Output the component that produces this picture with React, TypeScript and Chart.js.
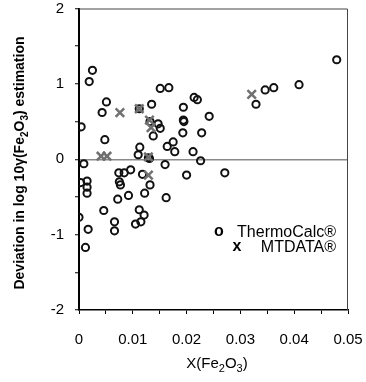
import React, { useEffect, useRef } from "react";
import { Chart, registerables } from "chart.js";

Chart.register(...registerables);

// ThermoCalc® points
const thermoX = [
  0.0025, 0.0019, 0.0051, 0.0043, 0.0112, 0.0135, 0.0151, 0.0167, 0.0004, 0.0048,
  0.0132, 0.0147, 0.0151, 0.0138, 0.0194, 0.0194, 0.0195, 0.0193, 0.0214, 0.0220,
  0.0242, 0.0228, 0.0113, 0.0110, 0.0129, 0.0131, 0.0164, 0.0175, 0.0178, 0.0212,
  0.0226, 0.0479, 0.0409, 0.0362, 0.0346, 0.0329, 0.0271, 0.0009, 0.0160, 0.0200,
  0.0096, 0.0084, 0.0074, 0.0118, 0.0132, 0.0077, 0.0075, 0.0003, 0.0015, 0.0015,
  0.0015, 0.0122, 0.0092, 0.0072, 0.0162, 0.0046, 0.0112, 0.0121, 0.0115, 0.0105,
  0.0066, 0.0066, 0.0000, 0.0017, 0.0012,
];
const thermoY = [
  1.18, 1.03, 0.76, 0.62, 0.67, 0.73, 0.94, 0.95, 0.43, 0.26,
  0.50, 0.47, 0.41, 0.31, 0.69, 0.52, 0.50, 0.35, 0.82, 0.79,
  0.57, 0.35, 0.16, 0.06, 0.02, 0.01, 0.17, 0.23, 0.10, 0.10,
  -0.02, 1.32, 0.99, 0.95, 0.92, 0.73, -0.18, -0.06, -0.07, -0.21,
  -0.14, -0.18, -0.18, -0.20, -0.34, -0.34, -0.30, -0.31, -0.29, -0.37,
  -0.45, -0.45, -0.48, -0.53, -0.51, -0.68, -0.67, -0.74, -0.83, -0.86,
  -0.83, -0.95, -0.77, -0.93, -1.17,
];

// MTDATA® points
const mtX = [0.0041, 0.0052, 0.0076, 0.0112, 0.0131, 0.0134, 0.0129, 0.0129, 0.0321];
const mtY = [0.04, 0.04, 0.62, 0.67, 0.52, 0.42, 0.03, -0.21, 0.86];

const xTickVals = [0, 0.005, 0.01, 0.015, 0.02, 0.025, 0.03, 0.035, 0.04, 0.045, 0.05];
const yTickVals = [-2, -1.5, -1, -0.5, 0, 0.5, 1, 1.5, 2];

const seriesNames = ["ThermoCalc®", "MTDATA®"];
const FONT = "'Liberation Sans', Arial, sans-serif";

const decorPlugin = {
  id: "decor",
  afterDraw(chart: any) {
    const { ctx, chartArea } = chart;
    const { left, right, top, bottom } = chartArea;
    ctx.save();
    // top and right frame
    ctx.strokeStyle = "#444";
    ctx.lineWidth = 1;
    ctx.beginPath();
    ctx.moveTo(left, top + 0.5);
    ctx.lineTo(right - 0.5, top + 0.5);
    ctx.lineTo(right - 0.5, bottom);
    ctx.stroke();

    // legend
    ctx.fillStyle = "#000";
    ctx.textBaseline = "middle";
    ctx.font = `bold 16px ${FONT}`;
    ctx.textAlign = "center";
    ctx.fillText("o", 219, 232);
    ctx.fillText("x", 237, 247);
    ctx.font = `16px ${FONT}`;
    ctx.textAlign = "right";
    ctx.fillText(seriesNames[0], 336, 233);
    ctx.fillText(seriesNames[1], 336, 248);

    const drawRich = (parts: { t: string; sub?: boolean }[], size: number, weight: string, cx: number, cy: number) => {
      const subSize = Math.round(size * 0.7);
      let total = 0;
      for (const p of parts) {
        ctx.font = `${weight} ${p.sub ? subSize : size}px ${FONT}`;
        total += ctx.measureText(p.t).width;
      }
      let x = cx - total / 2;
      ctx.textAlign = "left";
      ctx.textBaseline = "alphabetic";
      for (const p of parts) {
        ctx.font = `${weight} ${p.sub ? subSize : size}px ${FONT}`;
        ctx.fillText(p.t, x, cy + (p.sub ? size * 0.25 : 0));
        x += ctx.measureText(p.t).width;
      }
    };
    // x title
    drawRich(
      [{ t: "X(Fe" }, { t: "2", sub: true }, { t: "O" }, { t: "3", sub: true }, { t: ")" }],
      15, "normal", 217, 368
    );

    // y title (rotated)
    ctx.save();
    ctx.translate(24, 163);
    ctx.rotate(-Math.PI / 2);
    drawRich(
      [
        { t: "Deviation in log 10γ(Fe" },
        { t: "2", sub: true },
        { t: "O" },
        { t: "3", sub: true },
        { t: ") estimation" },
      ],
      14, "bold", 0, 0
    );
    ctx.restore();
    ctx.restore();
  },
};

export default function App() {
  const ref = useRef<HTMLCanvasElement | null>(null);
  useEffect(() => {
    if (!ref.current) return;
    const thermo = thermoX.map((x, i) => ({ x, y: thermoY[i] }));
    const mt = mtX.map((x, i) => ({ x, y: mtY[i] }));
    const chart = new Chart(ref.current, {
      type: "scatter",
      data: {
        datasets: [
          {
            label: seriesNames[1],
            data: mt,
            pointStyle: "crossRot",
            pointRadius: 6,
            borderColor: "#707070",
            backgroundColor: "#707070",
            pointBorderWidth: 2.5,
          },
          {
            label: seriesNames[0],
            data: thermo,
            pointStyle: "circle",
            pointRadius: 3.6,
            borderColor: "#111",
            backgroundColor: "rgba(255,255,255,0)",
            pointBorderWidth: 2,
          },
        ],
      },
      options: {
        animation: false,
        responsive: true,
        maintainAspectRatio: false,
        layout: { padding: { top: 8, right: 18, left: 0, bottom: 0 } },
        plugins: { legend: { display: false }, tooltip: { enabled: false } },
        scales: {
          x: {
            type: "linear",
            min: 0,
            max: 0.05,
            afterBuildTicks: (s: any) => {
              s.ticks = xTickVals.map((v) => ({ value: v }));
            },
            afterFit: (s: any) => {
              s.height = 72;
              s.paddingLeft = 0;
              s.paddingRight = 0;
            },
            ticks: {
              autoSkip: false,
              maxRotation: 0,
              padding: 17,
              color: "#000",
              font: { family: FONT, size: 15 },
              callback: (v: any) => {
                const n = Number(v);
                if (Math.abs(n * 100 - Math.round(n * 100)) > 1e-6) return "";
                return n === 0 ? "0" : String(Math.round(n * 100) / 100);
              },
            },
            grid: {
              drawOnChartArea: false,
              drawTicks: true,
              tickLength: 4,
              tickColor: "#000",
              tickWidth: 1,
            },
            border: { color: "#000", width: 1.5 },
          },
          y: {
            type: "linear",
            min: -2,
            max: 2,
            afterBuildTicks: (s: any) => {
              s.ticks = yTickVals.map((v) => ({ value: v }));
            },
            afterFit: (s: any) => {
              s.width = 79;
              s.paddingTop = 0;
              s.paddingBottom = 0;
            },
            ticks: {
              autoSkip: false,
              padding: 11,
              color: "#000",
              font: { family: FONT, size: 15 },
              callback: (v: any) => {
                const n = Number(v);
                return Number.isInteger(n) ? String(n) : "";
              },
            },
            grid: {
              drawOnChartArea: true,
              color: (c: any) => (c.tick && c.tick.value === 0 ? "#8a8a8a" : "rgba(0,0,0,0)"),
              lineWidth: 1.5,
              drawTicks: true,
              tickLength: 4,
              tickColor: "#000",
              tickWidth: 1,
            },
            border: { color: "#000", width: 2 },
          },
        },
      },
      plugins: [decorPlugin],
    } as any);
    return () => chart.destroy();
  }, []);
  return (
    <div style={{ position: "fixed", left: 0, top: 0, width: 366, height: 382, background: "#fff" }}>
      <canvas ref={ref} />
    </div>
  );
}
